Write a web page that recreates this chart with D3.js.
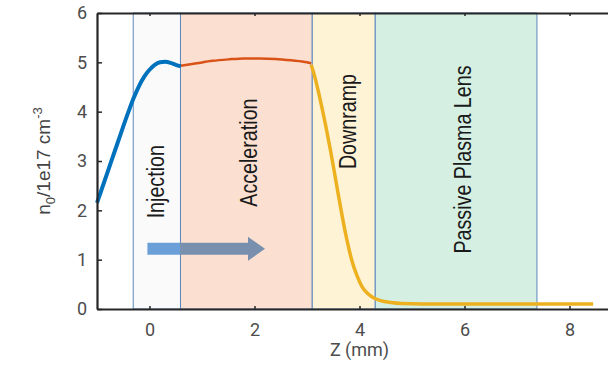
<!DOCTYPE html>
<html>
<head>
<meta charset="utf-8">
<script src="https://cdn.jsdelivr.net/npm/d3@7"></script>
<style>
  body { margin: 0; background: #fff; }
  svg { display: block; overflow: hidden; }
</style>
</head>
<body>
<div id="chart"></div>
<script>
// ---- data ----
var xTicks = [ 0, 2, 4, 6, 8 ];
var yTicks = [ 0, 1, 2, 3, 4, 5, 6 ];

var regionNames = [ "Injection", "Acceleration", "Downramp", "Passive Plasma Lens" ];
var regionStart = [ -0.31, 0.59, 3.10, 4.30 ];
var regionEnd   = [ 0.59, 3.10, 4.30, 7.38 ];

// injection part of the profile
var blueZ = [ -1, -0.8, -0.6, -0.4, -0.3, -0.2, -0.1, 0, 0.1, 0.2, 0.3, 0.4, 0.5, 0.6 ];
var blueN = [ 2.15, 2.77, 3.39, 4.0, 4.28, 4.52, 4.71, 4.85, 4.95, 5.0, 5.01, 4.99, 4.95, 4.92 ];

// acceleration plateau
var orangeZ = [ 0.6, 0.9, 1.2, 1.5, 1.8, 2.1, 2.4, 2.7, 3.0, 3.08 ];
var orangeN = [ 4.93, 4.98, 5.03, 5.06, 5.08, 5.08, 5.07, 5.04, 5.0, 4.98 ];

// downramp + lens
var yellowZ = [ 3.08, 3.15, 3.25, 3.35, 3.45, 3.55, 3.65, 3.75, 3.85, 3.95, 4.05, 4.15, 4.25, 4.4, 4.6, 4.8, 5.2, 6, 7, 8, 8.45 ];
var yellowN = [ 4.95, 4.7, 4.25, 3.75, 3.2, 2.6, 2.0, 1.45, 1.0, 0.68, 0.45, 0.32, 0.24, 0.17, 0.13, 0.11, 0.1, 0.1, 0.1, 0.1, 0.1 ];

// ---- layout / style ----
var width = 608, height = 367;
var fills = [ "#fafafb", "#fbe0d1", "#fff3d6", "#d5f0e2" ];
// label anchor (z, n) for the rotated region names
var labelAt = [ [ 0.27, 2.58 ], [ 2.05, 3.17 ], [ 3.94, 3.80 ], [ 6.12, 3.03 ] ];
var arrowFrom = [ -0.04, 1.22 ], arrowTo = [ 2.2, 1.22 ];

var svg = d3.select( "#chart" ).append( "svg" )
  .attr( "width", width )
  .attr( "height", height );

var x = d3.scaleLinear().domain( [ -1, 9 ] ).range( [ 97, 622 ] );
var y = d3.scaleLinear().domain( [ 0, 6 ] ).range( [ 309, 13 ] );

// regions
var regions = regionNames.map( function( name, i ) {
  return { name: name, x0: regionStart[ i ], x1: regionEnd[ i ], fill: fills[ i ], at: labelAt[ i ] };
} );

svg.selectAll( ".region" )
  .data( regions )
  .enter().append( "rect" )
    .attr( "class", "region" )
    .attr( "x", d => x( d.x0 ) )
    .attr( "y", y( 6 ) )
    .attr( "width", d => x( d.x1 ) - x( d.x0 ) )
    .attr( "height", y( 0 ) - y( 6 ) )
    .style( "fill", d => d.fill )
    .style( "stroke", "#5b87bd" )
    .style( "stroke-width", 1 );

// arrow, colour changes where it enters the acceleration region
var defs = svg.append( "defs" );
var grad = defs.append( "linearGradient" )
  .attr( "id", "arrowGrad" )
  .attr( "gradientUnits", "userSpaceOnUse" )
  .attr( "x1", x( arrowFrom[ 0 ] ) ).attr( "x2", x( arrowTo[ 0 ] ) )
  .attr( "y1", 0 ).attr( "y2", 0 );
var split = ( x( regionStart[ 1 ] ) - x( arrowFrom[ 0 ] ) ) / ( x( arrowTo[ 0 ] ) - x( arrowFrom[ 0 ] ) );
grad.append( "stop" ).attr( "offset", split ).attr( "stop-color", "#6b9fd7" );
grad.append( "stop" ).attr( "offset", split ).attr( "stop-color", "#7890ae" );

var ax0 = x( arrowFrom[ 0 ] ), ax1 = x( arrowTo[ 0 ] ), ay = y( arrowFrom[ 1 ] );
var headLen = 17, shaftH = 6, headH = 12;
svg.append( "path" )
  .attr( "d", "M" + ax0 + "," + ( ay - shaftH ) +
    "L" + ( ax1 - headLen ) + "," + ( ay - shaftH ) +
    "L" + ( ax1 - headLen ) + "," + ( ay - headH ) +
    "L" + ax1 + "," + ay +
    "L" + ( ax1 - headLen ) + "," + ( ay + headH ) +
    "L" + ( ax1 - headLen ) + "," + ( ay + shaftH ) +
    "L" + ax0 + "," + ( ay + shaftH ) + "Z" )
  .style( "fill", "url(#arrowGrad)" );

// profile curves
var line = d3.line()
  .x( d => x( d[ 0 ] ) )
  .y( d => y( d[ 1 ] ) )
  .curve( d3.curveMonotoneX );

var segments = [
  { z: blueZ, n: blueN, color: "#0072bd", w: 4 },
  { z: orangeZ, n: orangeN, color: "#d95319", w: 2.5 },
  { z: yellowZ, n: yellowN, color: "#edb120", w: 3.5 }
];

svg.selectAll( ".profile" )
  .data( segments )
  .enter().append( "path" )
    .attr( "class", "profile" )
    .attr( "d", d => line( d.z.map( ( z, i ) => [ z, d.n[ i ] ] ) ) )
    .style( "fill", "none" )
    .style( "stroke", d => d.color )
    .style( "stroke-width", d => d.w )
    .style( "stroke-linejoin", "round" );

// region names (narrow look: squeeze along the text direction)
svg.selectAll( ".rlabel" )
  .data( regions )
  .enter().append( "text" )
    .attr( "class", "rlabel" )
    .attr( "transform", d => "translate(" + x( d.at[ 0 ] ) + "," + y( d.at[ 1 ] ) + ") rotate(-90) scale(0.82,1)" )
    .attr( "text-anchor", "middle" )
    .style( "font-family", "'Liberation Sans', Arial, sans-serif" )
    .style( "font-size", "24px" )
    .style( "fill", "#1a1a1a" )
    .text( d => d.name );

// axes
var axisColor = "#262626", labelColor = "#4d4d4d";

function styleAxis( g ) {
  g.select( ".domain" ).style( "stroke", axisColor ).style( "stroke-width", 2.2 );
  g.selectAll( ".tick line" ).style( "stroke", axisColor ).style( "stroke-width", 1.5 );
  g.selectAll( ".tick text" )
    .style( "font-family", "Roboto, 'Liberation Sans', sans-serif" )
    .style( "font-size", "18px" )
    .style( "fill", labelColor );
}

svg.append( "g" )
  .attr( "transform", "translate(0," + y( 0 ) + ")" )
  .call( d3.axisBottom( x ).tickValues( xTicks ).tickSize( -3 ).tickSizeOuter( 0 ).tickPadding( 14 ) )
  .call( styleAxis );

svg.append( "g" )
  .attr( "transform", "translate(0," + y( 6 ) + ")" )
  .call( d3.axisTop( x ).tickValues( xTicks ).tickSize( -3 ).tickSizeOuter( 0 ).tickFormat( "" ) )
  .call( styleAxis );

svg.append( "g" )
  .attr( "transform", "translate(" + x( -1 ) + ",0)" )
  .call( d3.axisLeft( y ).tickValues( yTicks ).tickFormat( d3.format( "d" ) ).tickSize( -5 ).tickSizeOuter( 0 ).tickPadding( 10 ) )
  .call( styleAxis );

// axis titles
svg.append( "text" )
  .attr( "x", ( x.range()[ 0 ] + x.range()[ 1 ] ) / 2 )
  .attr( "y", 356 )
  .attr( "text-anchor", "middle" )
  .style( "font-family", "Roboto, 'Liberation Sans', sans-serif" )
  .style( "font-size", "18px" )
  .style( "fill", labelColor )
  .text( "Z (mm)" );

var yTitle = svg.append( "text" )
  .attr( "transform", "translate(50," + ( ( y( 0 ) + y( 6 ) ) / 2 ) + ") rotate(-90)" )
  .attr( "text-anchor", "middle" )
  .style( "font-family", "'Liberation Sans', Arial, sans-serif" )
  .style( "font-size", "19px" )
  .style( "fill", "#444" );
yTitle.append( "tspan" ).text( "n" );
yTitle.append( "tspan" ).attr( "dy", 5 ).style( "font-size", "13px" ).text( "0" );
yTitle.append( "tspan" ).attr( "dy", -5 ).text( "/1e17 cm" );
yTitle.append( "tspan" ).attr( "dy", -8 ).style( "font-size", "13px" ).text( "-3" );
</script>
</body>
</html>
